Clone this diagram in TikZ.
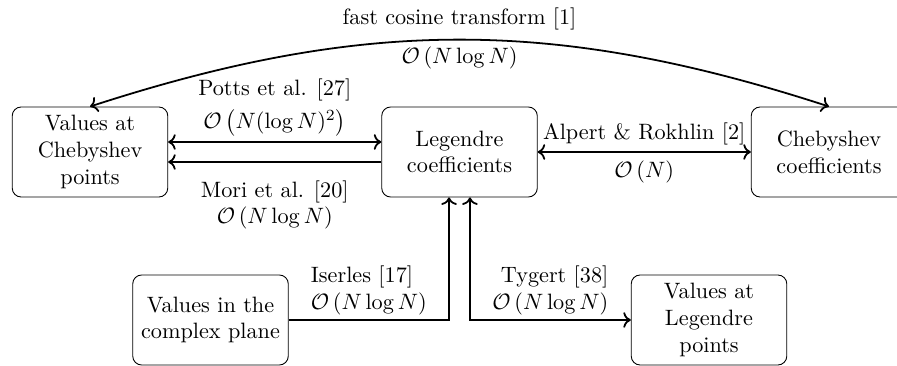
\documentclass[tikz,border=0pt]{standalone}
\usepackage{amsmath, amssymb}
\usepackage{tikz}
\usetikzlibrary{arrows.meta}

\begin{document}
\begin{tikzpicture}[x=0.45pt,y=0.45pt,yscale=-1,
  box/.style={draw, rounded corners=4pt, align=center, minimum width=70pt, minimum height=40.5pt, inner sep=2pt},
  link/.style={thick},
  lab/.style={align=center, inner sep=2pt}]
\useasboundingbox (0,0) rectangle (897,366);

%Boxes
\node [box] (chebv) at (90,152) {Values at\\Chebyshev\\points};
\node [box] (leg) at (459.5,152) {Legendre\\coefficients};
\node [box] (chebc) at (829,152) {Chebyshev\\coefficients};
\node [box] (cplx) at (210.5,320) {Values in the\\complex plane};
\node [box] (legv) at (709,320) {Values at\\Legendre\\points};

%Top curve
\draw [link, <->] (chebv.north) to [bend right=18]
  node [lab, above=2pt] {fast cosine transform [1]}
  node [lab, below=1pt] {$\mathcal{O}\left(N\log N\right)$} (chebc.north);

%Legendre to Chebyshev values
\draw [link, <->] ([yshift=-4.5pt]leg.west) -- node [lab, above=0pt] {Potts et al. [27]\\[3pt]$\mathcal{O}\left(N(\log N)^2\right)$} ([yshift=-4.5pt]chebv.east);
\draw [link, ->] ([yshift=4.5pt]leg.west) -- node [lab, below=6pt] {Mori et al. [20]\\$\mathcal{O}\left(N\log N\right)$} ([yshift=4.5pt]chebv.east);

%Legendre to Chebyshev coefficients
\draw [link, <->] (leg.east) -- node [lab, above=0.5pt] {Alpert \& Rokhlin [2]}
  node [lab, below=1.5pt] {$\mathcal{O}\left(N\right)$} (chebc.west);

%Bottom
\draw [link, ->] (cplx.east) -| node [lab, pos=0.25, above, align=left] {Iserles [17]\\$\mathcal{O}\left(N\log N\right)$} ([xshift=-4.7pt]leg.south);
\draw [link, <->] ([xshift=4.7pt]leg.south) |- node [lab, pos=0.75, above, align=right] {Tygert [38]\\$\mathcal{O}\left(N\log N\right)$} (legv.west);

\end{tikzpicture}
\end{document}
